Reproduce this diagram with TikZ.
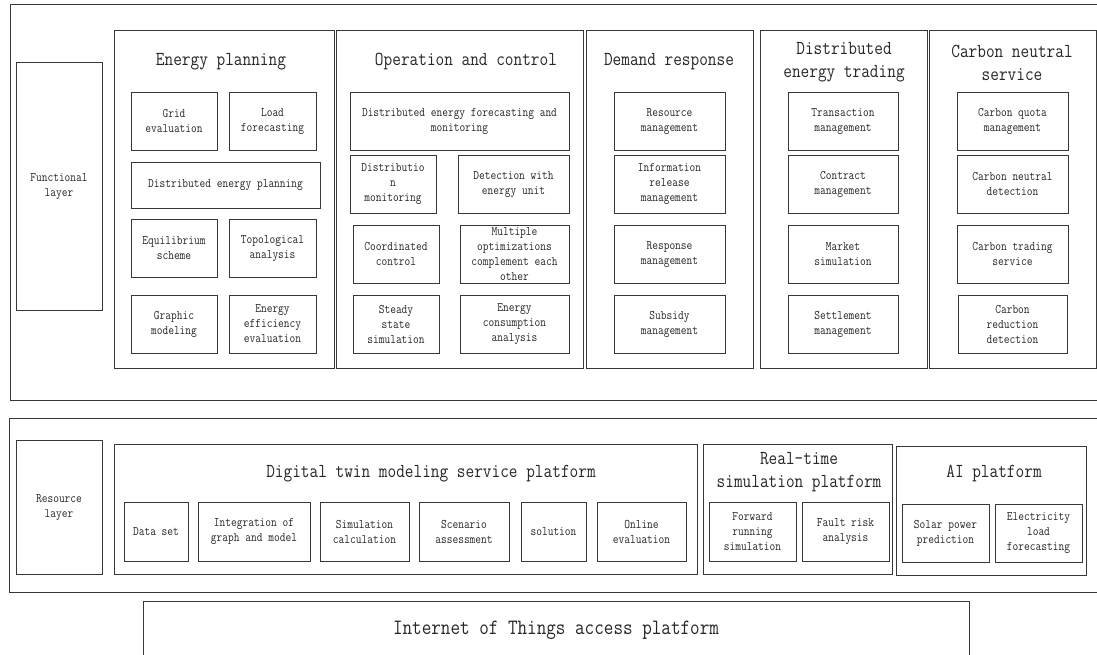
\documentclass[tikz,border=0pt]{standalone}
\usepackage{fontspec}
\setmonofont[FakeStretch=0.85]{Latin Modern Mono}

\newcommand{\cellfont}{\ttfamily\fontsize{13.1}{15}\selectfont}
\newcommand{\boxtitlefont}{\ttfamily\fontsize{19.8}{23}\selectfont}
\newcommand{\basefont}{\ttfamily\fontsize{21.9}{23}\selectfont}

\tikzset{
  frame/.style={draw=black!78, line width=0.9pt, inner sep=0pt},
  cell/.style={frame, align=center, font=\cellfont, text=black!85,
    minimum width=86pt, minimum height=58pt},
  heading/.style={align=center, font=\boxtitlefont, text=black!85, inner sep=0pt},
  wh/.style 2 args={minimum width=#1, minimum height=#2},
}

\begin{document}
\begin{tikzpicture}[x=1pt, y=-1pt]
  \path[use as bounding box, clip] (0,0) rectangle (1097,655);

  % Functional layer
  \node[frame, wh={1090pt}{396pt}] (funcarea) at (555,202) {};
  \node[cell, wh={86pt}{248pt}] (funclayer) at (59,186) {Functional\\layer};

  % Energy planning
  \node[frame, wh={220pt}{338pt}] (planning) at (224,199) {};
  \node[heading] (planningtitle) at (221,62) {Energy planning};
  \node[cell] (grideval) at (174,121) {Grid\\evaluation};
  \node[cell, wh={87pt}{58pt}] (loadfc) at (272.5,121) {Load\\forecasting};
  \node[cell, wh={189pt}{46pt}] (deplan) at (225.5,185) {Distributed energy planning};
  \node[cell] (equil) at (174,248) {Equilibrium\\scheme};
  \node[cell, wh={87pt}{58pt}] (topo) at (272.5,248) {Topological\\analysis};
  \node[cell] (graphic) at (174,324) {Graphic\\modeling};
  \node[cell, wh={87pt}{58pt}] (effeval) at (272.5,324) {Energy\\efficiency\\evaluation};

  % Operation and control
  \node[frame, wh={247pt}{338pt}] (operation) at (459.5,199) {};
  \node[heading] (operationtitle) at (466,62) {Operation and control};
  \node[cell, wh={219pt}{58pt}] (defc) at (459.5,121) {Distributed energy forecasting and\\monitoring};
  \node[cell] (distmon) at (393,184) {Distributio\\n\\monitoring};
  \node[cell, wh={111pt}{58pt}] (detect) at (513.5,184) {Detection with\\energy unit};
  \node[cell] (coord) at (396,254) {Coordinated\\control};
  \node[cell, wh={109pt}{58pt}] (multiopt) at (514.5,254) {Multiple\\optimizations\\complement each\\other};
  \node[cell] (steady) at (396,324) {Steady\\state\\simulation};
  \node[cell, wh={109pt}{58pt}] (consump) at (514.5,324) {Energy\\consumption\\analysis};

  % Demand response
  \node[frame, wh={167pt}{338pt}] (demand) at (669.5,199) {};
  \node[heading] (demandtitle) at (669,62) {Demand response};
  \node[cell, wh={111pt}{58pt}] (resmgmt) at (669.5,121) {Resource\\management};
  \node[cell, wh={111pt}{58pt}] (infomgmt) at (669.5,184) {Information\\release\\management};
  \node[cell, wh={111pt}{58pt}] (respmgmt) at (669.5,254) {Response\\management};
  \node[cell, wh={111pt}{58pt}] (subsidy) at (669.5,324) {Subsidy\\management};

  % Distributed energy trading
  \node[frame, wh={167pt}{338pt}] (trading) at (843.5,199) {};
  \node[heading] (tradingtitle) at (844,62.5) {Distributed\\energy trading};
  \node[cell, wh={110pt}{58pt}] (transact) at (843,121) {Transaction\\management};
  \node[cell, wh={110pt}{58pt}] (contract) at (843,184) {Contract\\management};
  \node[cell, wh={110pt}{58pt}] (market) at (843,254) {Market\\simulation};
  \node[cell, wh={110pt}{58pt}] (settle) at (843,324) {Settlement\\management};

  % Carbon neutral service
  \node[frame, wh={167pt}{338pt}] (carbon) at (1012.5,199) {};
  \node[heading] (carbontitle) at (1012,62.5) {Carbon neutral\\service};
  \node[cell, wh={111pt}{58pt}] (quota) at (1012.5,121) {Carbon quota\\management};
  \node[cell, wh={111pt}{58pt}] (neutral) at (1012.5,184) {Carbon neutral\\detection};
  \node[cell, wh={111pt}{58pt}] (ctrade) at (1012.5,254) {Carbon trading\\service};
  \node[cell, wh={109pt}{58pt}] (reduct) at (1012.5,324) {Carbon\\reduction\\detection};

  % Resource layer
  \node[frame, wh={1091pt}{174pt}] (resarea) at (554.5,505) {};
  \node[cell, wh={86pt}{134pt}] (reslayer) at (59,507) {Resource\\layer};

  % Digital twin platform
  \node[frame, wh={583pt}{130pt}] (twin) at (405.5,509) {};
  \node[heading] (twintitle) at (431,474) {Digital twin modeling service platform};
  \node[cell, wh={64pt}{59pt}] (dataset) at (156,531.5) {Data set};
  \node[cell, wh={112pt}{59pt}] (integ) at (254,531.5) {Integration of\\graph and model};
  \node[cell, wh={89pt}{59pt}] (simcalc) at (364.5,531.5) {Simulation\\calculation};
  \node[cell, wh={90pt}{59pt}] (scenario) at (464,531.5) {Scenario\\assessment};
  \node[cell, wh={65pt}{59pt}] (solution) at (553.5,531.5) {solution};
  \node[cell, wh={89pt}{59pt}] (online) at (641.5,531.5) {Online\\evaluation};

  % Real-time simulation platform
  \node[frame, wh={189pt}{130pt}] (realtime) at (797.5,509) {};
  \node[heading] (realtimetitle) at (799,472) {Real-time\\simulation platform};
  \node[cell, wh={87pt}{59pt}] (forward) at (752.5,531.5) {Forward\\running\\simulation};
  \node[cell, wh={87pt}{59pt}] (fault) at (845.5,531.5) {Fault risk\\analysis};

  % AI platform
  \node[frame, wh={190pt}{129pt}] (aiplat) at (991,510.5) {};
  \node[heading] (aititle) at (994,474) {AI platform};
  \node[cell, wh={87pt}{58pt}] (solar) at (945.5,533) {Solar power\\prediction};
  \node[cell, wh={87pt}{58pt}] (elecload) at (1038.5,533) {Electricity\\load\\forecasting};

  % IoT access
  \node[frame, wh={826pt}{59pt}, font=\basefont, text=black!85] (iot) at (556,630.5) {Internet of Things access platform};
\end{tikzpicture}
\end{document}
